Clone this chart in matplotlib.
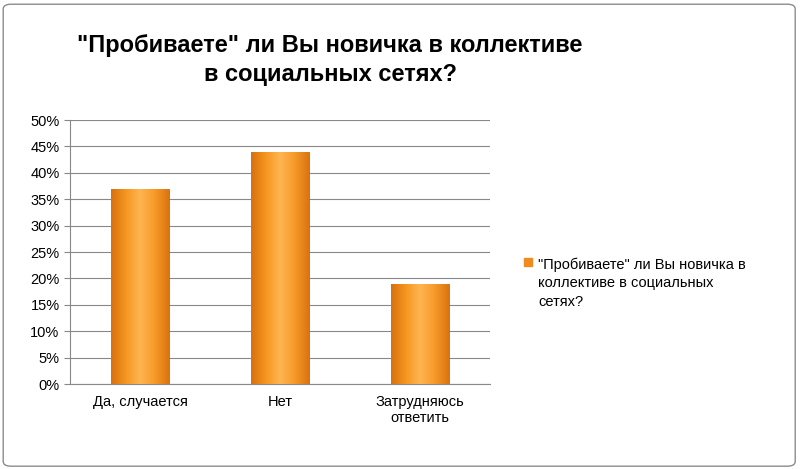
import numpy as np
import matplotlib
matplotlib.use("Agg")
import matplotlib.pyplot as plt
from matplotlib.patches import FancyBboxPatch
from matplotlib.colors import LinearSegmentedColormap

plt.rcParams["font.family"] = ["Liberation Sans", "DejaVu Sans"]

categories = ["Да, случается", "Нет", "Затрудняюсь\nответить"]
values = [37, 44, 19]
title = '"Пробиваете" ли Вы новичка в коллективе\nв социальных сетях?'
series_name = '"Пробиваете" ли Вы новичка в\nколлективе в социальных\nсетях?'

fig = plt.figure(figsize=(8, 4.69), dpi=100)
fig.patches.append(FancyBboxPatch((0.004, 0.006), 0.99, 0.985, boxstyle="round,pad=0,rounding_size=0.01",
                                  transform=fig.transFigure, fill=False, ec="#8c8c8c", lw=1))
ax = fig.add_axes([70 / 800, 1 - 384 / 469, 420 / 800, 264 / 469])

cmap = LinearSegmentedColormap.from_list("orng", ["#d8700e", "#f5951f", "#ffb550", "#f79a2a", "#dc7410"])
grad = np.linspace(0, 1, 256).reshape(1, -1)
x = np.arange(len(values))
bars = ax.bar(x, values, width=0.41, color="#f5962a", edgecolor="#c06a10", lw=0.6, zorder=2)
for b in bars:
    im = ax.imshow(grad, cmap=cmap, aspect="auto", zorder=3,
                   extent=[b.get_x(), b.get_x() + b.get_width(), 0, b.get_height()])
    im.set_clip_path(b)

ax.set_xlim(-0.5, 2.5)
ax.set_ylim(0, 50)
ax.set_yticks(range(0, 51, 5))
ax.set_yticklabels([f"{v}%" for v in range(0, 51, 5)], fontsize=10.5)
ax.set_xticks(x)
ax.set_xticklabels(categories, fontsize=10.5)
ax.tick_params(axis="y", length=4, color="#888888")
ax.tick_params(axis="x", length=0, pad=8)
ax.grid(axis="y", color="#888888", lw=0.8, zorder=0)
for s in ["top", "right"]:
    ax.spines[s].set_visible(False)
for s in ["left", "bottom"]:
    ax.spines[s].set_color("#888888")

fig.text(330 / 800, 1 - 60 / 469, title, ha="center", va="center", fontsize=17, fontweight="bold", linespacing=1.3)

fig.patches.append(plt.Rectangle((524 / 800, 1 - 266 / 469), 8 / 800, 8 / 469, transform=fig.transFigure,
                                 color="#f08c1e"))
fig.text(538 / 800, 1 - 283 / 469, series_name, ha="left", va="center", fontsize=10.5, linespacing=1.4)

fig.savefig("out.png", dpi=100)
